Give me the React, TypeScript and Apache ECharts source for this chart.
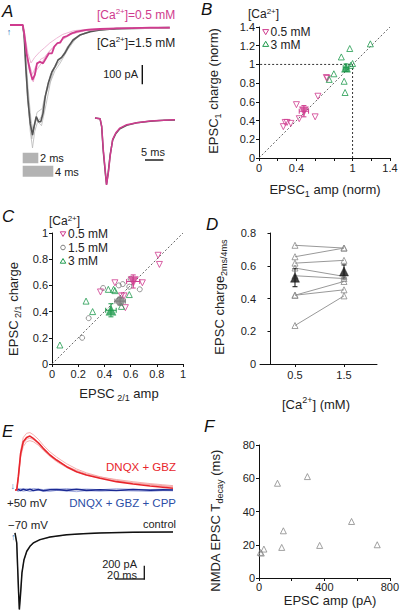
import React, { useEffect, useRef } from "react";
import * as echarts from "echarts";

const FONT = '"Liberation Sans", Arial, Helvetica, sans-serif';
const MAGENTA = "#cf3b8e";
const PINK = "#eaa6cc";
const DARKGRAY = "#555555";
const LIGHTGRAY = "#b8b8b8";
const GREEN = "#1f9a4d";
const GRAYC = "#7a7a7a";
const RED = "#e8252c";
const LIGHTRED = "#f39a9a";
const BLUE = "#1b2a94";
const LIGHTBLUE = "#8a96d6";
const ARROW = "#2b74b8";

// ---------- Panel A (time ms, current pA) ----------
const aMagentaMean: number[][] = [[0,0],[1.7,0],[1.9,-44],[2.2,-149],[2.7,-246],[3.0,-289],[3.3,-263],[3.6,-202],[4.0,-193],[4.4,-202],[4.8,-175],[5.2,-149],[5.6,-149],[5.9,-114],[6.3,-96],[6.7,-93],[7.1,-65],[7.6,-58],[8.2,-44],[8.9,-35],[10.2,-26],[12,-21],[14.2,-18],[16.4,-16],[18.7,-14],[21.3,-14]];
const aGrayMean: number[][] = [[0,0],[1.7,0],[1.9,-61],[2.1,-219],[2.4,-395],[2.7,-518],[3.0,-579],[3.2,-535],[3.5,-482],[3.8,-509],[4.1,-509],[4.4,-465],[4.7,-377],[5.1,-307],[5.6,-246],[6.0,-219],[6.4,-184],[6.9,-170],[7.3,-149],[7.8,-114],[8.4,-79],[9.3,-53],[10.7,-35],[12,-26],[14.2,-19],[16.4,-18],[21.3,-14]];
const aGray1: number[][] = [[0,0],[1.7,0],[1.9,-80],[2.3,-350],[2.7,-560],[3.0,-647],[3.3,-560],[3.6,-520],[4.2,-480],[4.8,-350],[5.4,-260],[6.2,-200],[7.2,-150],[8.3,-90],[9.5,-50],[11,-30],[14,-20],[21.3,-14]];
const aGray2: number[][] = [[0,0],[1.7,0],[2.0,-90],[2.4,-330],[2.8,-500],[3.1,-560],[3.5,-500],[4.2,-530],[4.8,-420],[5.4,-300],[6.0,-240],[6.7,-200],[7.7,-130],[8.8,-70],[10,-40],[12,-25],[16,-16],[21.3,-14]];
const aGray3: number[][] = [[0,0],[1.7,0],[1.9,-70],[2.3,-380],[2.9,-600],[3.6,-460],[4.3,-440],[4.6,-380],[5.2,-320],[5.9,-230],[6.8,-180],[7.7,-110],[9,-60],[11,-30],[15,-18],[21.3,-13]];
const aPink1: number[][] = [[0,0],[1.7,0],[2.0,-60],[2.4,-150],[2.8,-200],[3.3,-170],[4.0,-140],[4.6,-120],[5.3,-95],[6.2,-70],[7,-50],[8.5,-30],[11,-20],[21.3,-15]];
const aPink2: number[][] = [[0,0],[1.7,0],[2.0,-70],[2.5,-200],[3.0,-260],[3.4,-220],[4.1,-180],[4.6,-170],[5.4,-130],[6.2,-100],[7.1,-75],[8.3,-45],[10,-28],[14,-18],[21.3,-14]];
const aPink3: number[][] = [[0,0],[1.7,0],[2.0,-80],[2.5,-230],[3.1,-300],[3.5,-240],[4.2,-200],[5.0,-150],[5.8,-120],[6.8,-80],[8,-50],[10,-30],[14,-18],[21.3,-14]];
// inset: normalized
const insetGray: number[][] = [[0,0],[1.4,-0.01],[1.85,-0.13],[2.3,-0.5],[2.9,-0.84],[3.2,-0.99],[3.7,-0.8],[4.2,-0.55],[4.9,-0.33],[5.8,-0.23],[6.9,-0.16],[8.8,-0.11],[11.6,-0.07],[15.3,-0.05],[19,-0.035],[22.2,-0.03]];
const insetMagenta: number[][] = [[0,0],[1.4,-0.01],[1.85,-0.12],[2.3,-0.47],[2.9,-0.82],[3.2,-1],[3.7,-0.82],[4.2,-0.57],[4.9,-0.32],[5.8,-0.22],[6.9,-0.15],[8.8,-0.1],[11.6,-0.07],[15.3,-0.045],[19,-0.035],[22.2,-0.025]];

// ---------- Panel B ----------
const b05: number[][] = [[0.26,0.335],[0.28,0.38],[0.30,0.38],[0.34,0.37],[0.43,0.42],[0.40,0.57],[0.60,0.44],[0.63,0.66],[0.72,0.86],[0.73,0.85]];
const b3: number[][] = [[0.75,0.84],[0.80,0.90],[0.88,1.08],[0.91,0.82],[0.92,0.70],[0.97,1.17],[0.98,0.99],[1.0,1.01],[1.19,1.22]];
const bMean05: number[][] = [[0.48,0.50,0.05,0.06]];
const bMean3: number[][] = [[0.93,0.965,0.03,0.04]];
const bTicks = [0,0.2,0.4,0.6,0.8,1,1.2,1.4];
const bXLabels = [0,0.4,1,1.4];

// ---------- Panel C ----------
const c05: number[][] = [[0.37,0.55],[0.48,0.62],[0.55,0.52],[0.56,0.43],[0.69,0.62],[0.81,0.83],[0.82,0.76],[0.53,0.52]];
const c15: number[][] = [[0.23,0.20],[0.28,0.35],[0.39,0.58],[0.51,0.60],[0.54,0.61],[0.59,0.59],[0.60,0.65],[0.67,0.57]];
const c3: number[][] = [[0.06,0.145],[0.26,0.48],[0.31,0.40],[0.43,0.57],[0.47,0.57],[0.59,0.53],[0.53,0.44],[0.48,0.56]];
const cMean05: number[][] = [[0.62,0.63,0.05,0.05]];
const cMean15: number[][] = [[0.52,0.48,0.04,0.03]];
const cMean3: number[][] = [[0.45,0.41,0.04,0.05]];

// ---------- Panel D ----------
const dConc = [0.5, 1.5];
const d05 = [0.725,0.655,0.616,0.586,0.539,0.42,0.42,0.235];
const d15 = [0.708,0.708,0.633,0.535,0.522,0.504,0.453,0.416];
const dMean: number[][] = [[0.5,0.527,0,0.055],[1.5,0.565,0,0.04]];

// ---------- Panel E (time ms, current pA) ----------
const eTime = [1.2,2.3,3.9,5.7,8.0,10.3,12.6,16.1,19.5,24.1,28.7,35.6,42.5,49.3,58.7,69.9,81.5,93.2,102,109];
const eRedMean = [0,190,523,689,751,770,737,675,595,500,428,333,261,214,167,119,86,57,39,24];
const eRed1 = [0,200,560,750,810,820,790,725,640,545,470,375,300,245,190,140,100,75,55,42];
const eRed2 = [0,160,470,620,690,705,690,640,565,480,405,320,255,210,170,128,100,80,62,52];
const eRed3 = [0,175,500,660,725,740,720,660,580,495,420,340,280,230,185,150,118,92,75,62];
const eBlueMean = [0,8,-6,10,-4,12,-8,6,-10,4,8,-6,10,-5,3,-8,6,-4,2,0];
const eBlue1 = [-10,-20,-5,-18,-8,-22,-12,-4,-16,-20,-6,-14,-24,-10,-18,-8,-14,-20,-10,-12];
const eBlue2 = [5,15,20,10,18,8,22,14,6,16,12,20,8,14,4,18,10,6,12,8];
const eCtrlTime = [0,1.2,1.8,2.5,3.0,3.9,4.8,6.2,8.1,10.3,12.6,17.2,24.1,35.6,47,58.7,81.5,109];
const eCtrl = [0,-142,-475,-856,-1094,-856,-570,-381,-261,-190,-142,-95,-57,-24,-10,0,10,14];
const eCtrl2 = [0,-150,-500,-880,-1080,-830,-560,-390,-270,-200,-150,-100,-60,-28,-8,4,12,16];

// ---------- Panel F ----------
const fAmp = [8,14,30,113,139,149,296,371,566,723];
const fTau = [15.4,15,17.4,57,18.4,28.4,61,19.6,34,20];

const zip = (t: number[], v: number[]) => t.map((x, i) => [x, v[i]]);

const axisBase = (extra: any) => ({
  type: "value",
  axisLine: { show: true, lineStyle: { color: "#111", width: 1 } },
  axisTick: { show: true, length: 3, lineStyle: { color: "#111" } },
  axisLabel: { color: "#222", fontSize: 11, fontFamily: FONT, margin: 4 },
  splitLine: { show: false },
  ...extra,
});
const hidden = (gridIndex: number, min: number, max: number) => ({ type: "value", gridIndex, min, max, show: false });

const trace = (data: number[][], idx: number, color: string, width: number, z = 2) => ({
  type: "line", xAxisIndex: idx, yAxisIndex: idx, data, symbol: "none", showSymbol: false,
  lineStyle: { color, width }, clip: false, z, silent: true, animation: false,
});
const scatter = (data: number[][], idx: number, symbol: string, rotate: number, color: string, filled: boolean, size: number, z = 3) => ({
  type: "scatter", xAxisIndex: idx, yAxisIndex: idx, data, symbol, symbolRotate: rotate, symbolSize: size, z, silent: true,
  itemStyle: filled ? { color, borderColor: color, borderWidth: 0.5 } : { color: "rgba(255,255,255,0)", borderColor: color, borderWidth: 1 },
});
const errBars = (data: number[][], idx: number, color: string) => ({
  type: "custom", xAxisIndex: idx, yAxisIndex: idx, data, clip: false, z: 3, silent: true,
  encode: { x: 0, y: 1 },
  renderItem: (_p: any, api: any) => {
    const x = api.value(0), y = api.value(1), ex = api.value(2), ey = api.value(3);
    const st = { stroke: color, lineWidth: 1 };
    const cap = 2.5;
    const ch: any[] = [];
    if (ex > 0) {
      const l = api.coord([x - ex, y]), r = api.coord([x + ex, y]);
      ch.push({ type: "line", shape: { x1: l[0], y1: l[1], x2: r[0], y2: r[1] }, style: st });
      ch.push({ type: "line", shape: { x1: l[0], y1: l[1] - cap, x2: l[0], y2: l[1] + cap }, style: st });
      ch.push({ type: "line", shape: { x1: r[0], y1: r[1] - cap, x2: r[0], y2: r[1] + cap }, style: st });
    }
    if (ey > 0) {
      const t = api.coord([x, y + ey]), b = api.coord([x, y - ey]);
      ch.push({ type: "line", shape: { x1: t[0], y1: t[1], x2: b[0], y2: b[1] }, style: st });
      ch.push({ type: "line", shape: { x1: t[0] - cap, y1: t[1], x2: t[0] + cap, y2: t[1] }, style: st });
      ch.push({ type: "line", shape: { x1: b[0] - cap, y1: b[1], x2: b[0] + cap, y2: b[1] }, style: st });
    }
    return { type: "group", children: ch };
  },
});

const sub = (size: number) => ({ fontSize: size, fontFamily: FONT, lineHeight: size, verticalAlign: "bottom" });
const sup = (size: number) => ({ fontSize: size, fontFamily: FONT, lineHeight: size, verticalAlign: "top" });

const txt = (text: string, x: number, y: number, o: any = {}) => ({
  type: "text", x, y, rotation: o.rotation || 0, silent: true, z: 10,
  style: {
    text, fill: o.color || "#222", fontSize: o.size || 11, fontFamily: FONT, fontStyle: o.italic ? "italic" : "normal",
    align: o.align || "left", verticalAlign: o.valign || "middle",
    textAlign: o.align || "left", textVerticalAlign: o.valign || "middle",
    lineHeight: o.lineHeight, rich: o.rich,
  },
});
const triMark = (cx: number, cy: number, s: number, down: boolean, color: string) => ({
  type: "polygon", silent: true,
  shape: { points: down ? [[cx - s / 2, cy - s * 0.4], [cx + s / 2, cy - s * 0.4], [cx, cy + s * 0.45]] : [[cx - s / 2, cy + s * 0.4], [cx + s / 2, cy + s * 0.4], [cx, cy - s * 0.45]] },
  style: { fill: "none", stroke: color, lineWidth: 1 },
});
const seg = (x1: number, y1: number, x2: number, y2: number, w = 1.3, color = "#111") => ({
  type: "line", silent: true, shape: { x1, y1, x2, y2 }, style: { stroke: color, lineWidth: w },
});

export default function App() {
  const ref = useRef<HTMLDivElement>(null);
  useEffect(() => {
    if (!ref.current) return;
    const chart = echarts.init(ref.current, undefined, { renderer: "svg" });

    const grids = [
      { left: 10, top: 25, width: 160, height: 125 },   // 0 A main
      { left: 95, top: 118, width: 80, height: 67 },    // 1 A inset
      { left: 259, top: 27, width: 131, height: 131 },  // 2 B
      { left: 52, top: 233, width: 131, height: 131 },  // 3 C
      { left: 260, top: 233, width: 117, height: 131 }, // 4 D
      { left: 15, top: 430, width: 158, height: 70 },   // 5 E upper
      { left: 15, top: 525, width: 158, height: 89 },   // 6 E lower
      { left: 259, top: 445, width: 132, height: 133 }, // 7 F
    ];

    const xAxes: any[] = [
      hidden(0, 0, 21.33),
      hidden(1, 0, 22.2),
      axisBase({ gridIndex: 2, min: 0, max: 1.4, interval: 0.2,
        axisTick: { show: true, length: 3, lineStyle: { color: "#111" }, customValues: bTicks },
        axisLabel: { color: "#222", fontSize: 11, fontFamily: FONT, margin: 4, customValues: bXLabels } }),
      axisBase({ gridIndex: 3, min: 0, max: 1, interval: 0.2 }),
      axisBase({ gridIndex: 4, min: -0.214, max: 2.173,
        axisTick: { show: true, length: 3, lineStyle: { color: "#111" }, customValues: dConc },
        axisLabel: { color: "#222", fontSize: 11, fontFamily: FONT, margin: 5, customValues: dConc } }),
      hidden(5, 0, 109),
      hidden(6, 0, 109),
      axisBase({ gridIndex: 7, min: 0, max: 800, interval: 200,
        axisTick: { show: true, length: 3, lineStyle: { color: "#111" }, customValues: [0, 200, 400, 600, 800] },
        axisLabel: { color: "#222", fontSize: 11, fontFamily: FONT, margin: 3, customValues: [0, 400, 800] } }),
    ];
    const yAxes: any[] = [
      hidden(0, -658, 0),
      hidden(1, -1, 0),
      axisBase({ gridIndex: 2, min: 0, max: 1.4, interval: 0.2 }),
      axisBase({ gridIndex: 3, min: 0, max: 1, interval: 0.2 }),
      axisBase({ gridIndex: 4, min: 0, max: 0.8, interval: 0.2 }),
      hidden(5, -143, 857),
      hidden(6, -1157, 114),
      axisBase({ gridIndex: 7, min: 0, max: 80, interval: 20 }),
    ];

    const series: any[] = [
      // A
      trace(aGray1, 0, LIGHTGRAY, 0.8), trace(aGray2, 0, LIGHTGRAY, 0.8), trace(aGray3, 0, LIGHTGRAY, 0.8),
      trace(aGrayMean, 0, DARKGRAY, 1.6),
      trace(aPink1, 0, PINK, 0.8), trace(aPink2, 0, PINK, 0.8), trace(aPink3, 0, PINK, 0.8),
      trace(aMagentaMean, 0, MAGENTA, 1.8),
      trace(insetGray, 1, DARKGRAY, 1.5), trace(insetMagenta, 1, MAGENTA, 1.5),
      // B
      { ...trace([[0, 0], [1.4, 1.4]], 2, "#666", 1), lineStyle: { color: "#666", width: 1, type: [2, 2] } },
      { ...trace([[1, 0], [1, 1], [0, 1]], 2, "#333", 1), lineStyle: { color: "#333", width: 1, type: [2, 2] } },
      scatter(b05, 2, "triangle", 180, MAGENTA, false, 6),
      scatter(b3, 2, "triangle", 0, GREEN, false, 6),
      errBars(bMean05, 2, MAGENTA), errBars(bMean3, 2, GREEN),
      scatter(bMean05, 2, "triangle", 180, MAGENTA, true, 9, 4),
      scatter(bMean3, 2, "triangle", 0, GREEN, true, 9, 4),
      // C
      { ...trace([[0, 0], [1, 1]], 3, "#666", 1), lineStyle: { color: "#666", width: 1, type: [2, 2] } },
      scatter(c15, 3, "circle", 0, GRAYC, false, 5),
      scatter(c05, 3, "triangle", 180, MAGENTA, false, 6),
      scatter(c3, 3, "triangle", 0, GREEN, false, 6),
      errBars(cMean05, 3, MAGENTA), errBars(cMean15, 3, GRAYC), errBars(cMean3, 3, GREEN),
      scatter(cMean05, 3, "triangle", 180, MAGENTA, true, 10, 4),
      scatter(cMean15, 3, "circle", 0, GRAYC, true, 9, 4),
      scatter(cMean3, 3, "triangle", 0, GREEN, true, 10, 4),
      // D
      ...d05.map((v, i) => trace([[dConc[0], v], [dConc[1], d15[i]]], 4, "#999", 1)),
      scatter(d05.map((v) => [dConc[0], v]), 4, "triangle", 0, "#8a8a8a", false, 6),
      scatter(d15.map((v) => [dConc[1], v]), 4, "triangle", 0, "#8a8a8a", false, 6),
      errBars(dMean, 4, "#111"),
      scatter(dMean, 4, "triangle", 0, "#111", true, 9, 4),
      // E
      trace(zip(eTime, eBlue1), 5, LIGHTBLUE, 0.8), trace(zip(eTime, eBlue2), 5, LIGHTBLUE, 0.8),
      trace(zip(eTime, eBlueMean), 5, BLUE, 1.6),
      trace([[0, 0], ...zip(eTime, eRed1)], 5, LIGHTRED, 0.8),
      trace([[0, 0], ...zip(eTime, eRed2)], 5, LIGHTRED, 0.8),
      trace([[0, 0], ...zip(eTime, eRed3)], 5, LIGHTRED, 0.8),
      trace([[0, 0], ...zip(eTime, eRedMean)], 5, RED, 1.6),
      trace(zip(eCtrlTime, eCtrl2), 6, "#999", 0.8),
      trace(zip(eCtrlTime, eCtrl), 6, "#111", 1.5),
      // F
      scatter(zip(fAmp, fTau), 7, "triangle", 0, "#8a8a8a", false, 6),
    ];

    const capName = 13;
    const graphic: any[] = [
      // panel letters
      txt("A", 2, 11, { size: 17, italic: true, color: "#111" }),
      txt("B", 201, 9, { size: 17, italic: true, color: "#111" }),
      txt("C", 2, 216, { size: 17, italic: true, color: "#111" }),
      txt("D", 206, 224, { size: 17, italic: true, color: "#111" }),
      txt("E", 2, 431, { size: 17, italic: true, color: "#111" }),
      txt("F", 204, 426, { size: 17, italic: true, color: "#111" }),
      // A annotations
      txt("↑", 9, 32, { size: 9, color: ARROW, align: "center" }),
      txt("[Ca{s|2+}]=0.5 mM", 97, 15, { size: 12, color: MAGENTA, lineHeight: 16, rich: { s: { ...sup(8), fill: MAGENTA } } }),
      txt("[Ca{s|2+}]=1.5 mM", 97, 43, { size: 12, color: "#222", lineHeight: 16, rich: { s: { ...sup(8), fill: "#222" } } }),
      txt("100 pA", 138, 74, { size: 11, align: "right" }),
      seg(142.3, 65, 142.3, 84.3, 1.4),
      txt("5 ms", 153, 152, { size: 11, align: "center" }),
      seg(145, 160, 163.3, 160, 1.4),
      { type: "rect", silent: true, shape: { x: 22.7, y: 152.7, width: 15.6, height: 10.6 }, style: { fill: "#b3b3b3" } },
      { type: "rect", silent: true, shape: { x: 22.7, y: 165.7, width: 30.6, height: 11 }, style: { fill: "#b3b3b3" } },
      txt("2 ms", 40, 158, { size: 11 }),
      txt("4 ms", 55, 171.5, { size: 11 }),
      // B legend and names
      txt("[Ca{s|2+}]", 248, 14, { size: 12, lineHeight: 14, rich: { s: { ...sup(8), fill: "#222" } } }),
      triMark(265.7, 32, 6, true, MAGENTA),
      txt("0.5 mM", 270.5, 32, { size: 12, lineHeight: 12 }),
      triMark(265.7, 44, 6, false, GREEN),
      txt("3 mM", 270.5, 44.5, { size: 12, lineHeight: 12 }),
      txt("EPSC{b|1} charge (norm)", 213, 91, { size: capName, align: "center", rotation: Math.PI / 2, lineHeight: 18, rich: { b: { ...sub(9), fill: "#222" } } }),
      txt("EPSC{b|1} amp (norm)", 325, 189, { size: capName, align: "center", lineHeight: 18, rich: { b: { ...sub(9), fill: "#222" } } }),
      // C legend and names
      txt("[Ca{s|2+}]", 49, 221, { size: 12, lineHeight: 13, rich: { s: { ...sup(8), fill: "#222" } } }),
      triMark(63, 234, 5.5, true, MAGENTA),
      txt("0.5 mM", 68, 234, { size: 12, lineHeight: 12 }),
      { type: "circle", silent: true, shape: { cx: 63, cy: 247.5, r: 2.3 }, style: { fill: "none", stroke: GRAYC, lineWidth: 1 } },
      txt("1.5 mM", 68, 247.5, { size: 12, lineHeight: 12 }),
      triMark(63, 261, 5.5, false, GREEN),
      txt("3 mM", 68, 261, { size: 12, lineHeight: 12 }),
      txt("EPSC{b| 2/1} charge", 13, 309, { size: capName, align: "center", rotation: Math.PI / 2, lineHeight: 18, rich: { b: { ...sub(9), fill: "#222" } } }),
      txt("EPSC{b| 2/1} amp", 119, 393, { size: capName, align: "center", lineHeight: 18, rich: { b: { ...sub(9), fill: "#222" } } }),
      // D names
      txt("EPSC charge{b|2ms/4ms}", 219, 297, { size: capName, align: "center", rotation: Math.PI / 2, lineHeight: 18, rich: { b: { ...sub(9), fill: "#222" } } }),
      txt("[Ca{s|2+}] (mM)", 316, 404, { size: capName, align: "center", lineHeight: 18, rich: { s: { ...sup(9), fill: "#222" } } }),
      // E annotations
      txt("↓", 12.7, 486, { size: 9, color: ARROW, align: "center" }),
      txt("↑", 13.3, 537, { size: 9, color: ARROW, align: "center" }),
      txt("DNQX + GBZ", 176, 467, { size: 11.5, color: RED, align: "right" }),
      txt("+50 mV", 7, 502.5, { size: 11.5 }),
      txt("DNQX + GBZ + CPP", 176, 503, { size: 11.5, color: "#2b4ea6", align: "right" }),
      txt("−70 mV", 8, 525, { size: 11.5 }),
      txt("control", 176, 524, { size: 11, align: "right" }),
      txt("200 pA", 137, 564, { size: 11, align: "right" }),
      txt("20 ms", 137, 575, { size: 11, align: "right" }),
      seg(144.3, 565.7, 144.3, 579.5, 1.3),
      seg(115, 579, 144.9, 579, 1.3),
      // F names
      txt("NMDA EPSC T{b|decay} (ms)", 215, 521, { size: capName, align: "center", rotation: Math.PI / 2, lineHeight: 18, rich: { b: { ...sub(9), fill: "#222" } } }),
      txt("EPSC amp (pA)", 330, 600, { size: capName, align: "center", lineHeight: 13 }),
    ];

    chart.setOption({
      animation: false,
      backgroundColor: "#ffffff",
      textStyle: { fontFamily: FONT },
      grid: grids,
      xAxis: xAxes,
      yAxis: yAxes,
      series,
      graphic,
    });
    return () => chart.dispose();
  }, []);
  return <div ref={ref} style={{ position: "fixed", left: 0, top: 0, width: 402, height: 614 }} />;
}
